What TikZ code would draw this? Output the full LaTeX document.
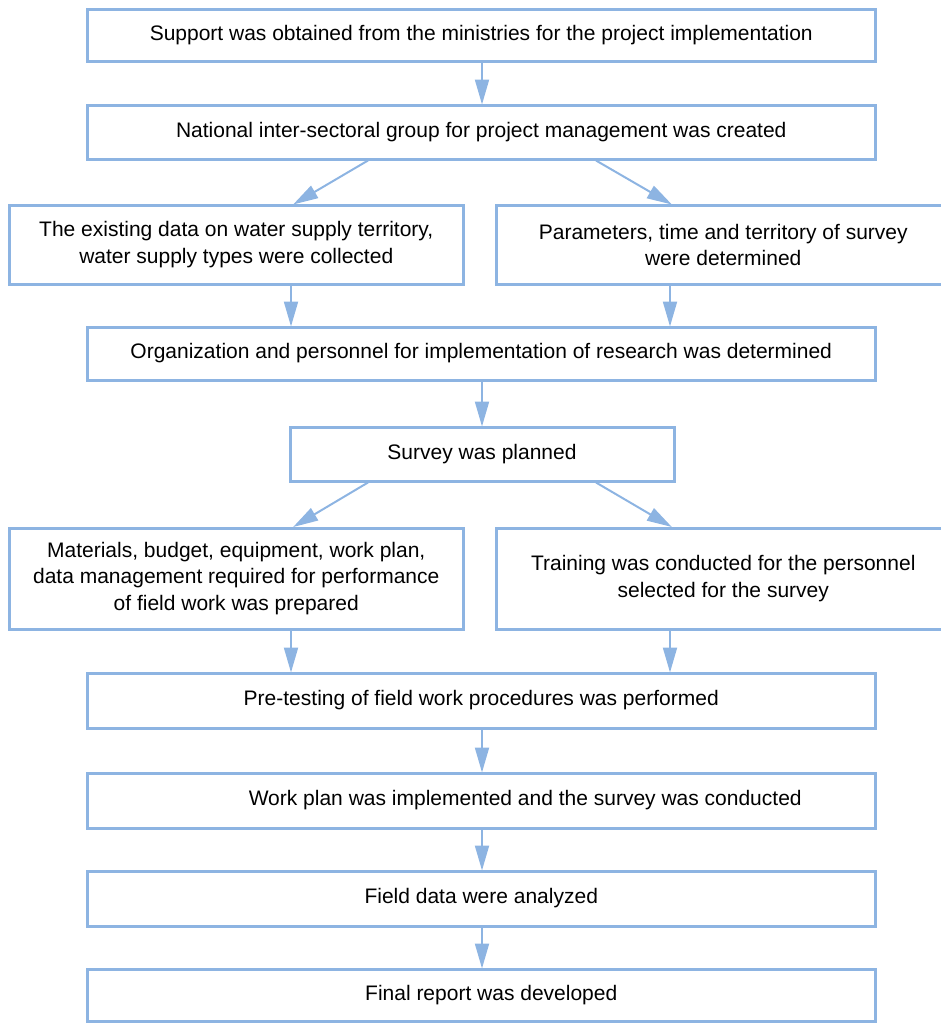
\documentclass[tikz,border=0pt]{standalone}
\usepackage{fontspec}
\setmainfont{Liberation Sans}
\usetikzlibrary{arrows.meta}
\definecolor{boxblue}{RGB}{141,180,226}
\tikzset{
  box/.style={draw=boxblue, line width=3pt, rectangle, inner sep=0pt, align=center,
    font=\fontsize{21}{26.5}\selectfont, text=black},
  arr/.style={draw=boxblue, line width=2pt, -{Triangle[length=25pt,width=14pt]}, shorten >=-1pt},
}
\begin{document}
\begin{tikzpicture}[x=1pt,y=-1pt]
\useasboundingbox (0,0) rectangle (940,1023);
% nodes
\node[box, minimum width=788.5pt, minimum height=52pt] (b1) at (481.25,35.5) {Support was obtained from the ministries for the project implementation};
\node[box, minimum width=788.5pt, minimum height=54pt] (b2) at (481.25,132) {National inter-sectoral group for project management was created};
\node[box, minimum width=453.5pt, minimum height=78.5pt] (b3l) at (236.25,244.75) {The existing data on water supply territory,\\water supply types were collected};
\node[box, minimum width=453.5pt, minimum height=78.5pt] (b3r) at (723.25,244.75) {Parameters, time and territory of survey\\were determined};
\node[box, minimum width=788.5pt, minimum height=53pt] (b4) at (481.25,353.5) {Organization and personnel for implementation of research was determined};
\node[box, minimum width=384pt, minimum height=54pt] (b5) at (482,454) {Survey was planned};
\node[box, minimum width=453.5pt, minimum height=101pt] (b6l) at (236.25,578.5) {Materials, budget, equipment, work plan,\\data management required for performance\\of field work was prepared};
\node[box, minimum width=453.5pt, minimum height=101pt] (b6r) at (723.25,578.5) {Training was conducted for the personnel\\selected for the survey};
\node[box, minimum width=788.5pt, minimum height=55pt] (b7) at (481.25,700.5) {Pre-testing of field work procedures was performed};
\node[box, minimum width=788.5pt, minimum height=55pt] (b8) at (481.25,800.5) {\hspace*{88pt}Work plan was implemented and the survey was conducted};
\node[box, minimum width=788.5pt, minimum height=55pt] (b9) at (481.25,898.5) {Field data were analyzed};
\node[box, minimum width=788.5pt, minimum height=52.5pt] (b10) at (481.25,995.25) {\hspace*{20pt}Final report was developed};
% helper coordinates
\coordinate (cx) at (482,0);
\coordinate (lx) at (291,0);
\coordinate (rx) at (670,0);
\coordinate (dls) at (368,0);
\coordinate (dle) at (294,0);
\coordinate (drs) at (596,0);
\coordinate (dre) at (671,0);
% connectors
\draw[arr] (b1.south -| cx) -- (b2.north -| cx);
\draw[arr] (b2.south -| dls) -- (b3l.north -| dle);
\draw[arr] (b2.south -| drs) -- (b3r.north -| dre);
\draw[arr] (b3l.south -| lx) -- (b4.north -| lx);
\draw[arr] (b3r.south -| rx) -- (b4.north -| rx);
\draw[arr] (b4.south -| cx) -- (b5.north -| cx);
\draw[arr] (b5.south -| dls) -- (b6l.north -| dle);
\draw[arr] (b5.south -| drs) -- (b6r.north -| dre);
\draw[arr] (b6l.south -| lx) -- (b7.north -| lx);
\draw[arr] (b6r.south -| rx) -- (b7.north -| rx);
\draw[arr] (b7.south -| cx) -- (b8.north -| cx);
\draw[arr] (b8.south -| cx) -- (b9.north -| cx);
\draw[arr] (b9.south -| cx) -- (b10.north -| cx);
\end{tikzpicture}
\end{document}
